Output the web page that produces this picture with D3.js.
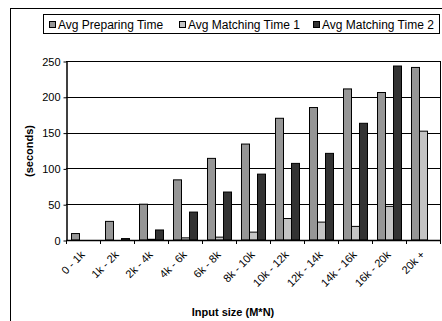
<!DOCTYPE html>
<html>
<head>
<meta charset="utf-8">
<script src="https://cdn.jsdelivr.net/npm/d3@7"></script>
<style>
body { margin: 0; background: #fff; }
text { font-family: "Liberation Sans", Arial, sans-serif; }
</style>
</head>
<body>
<svg id="chart"></svg>
<script>
// categories on the x axis
var categories = ["0 - 1k", "1k - 2k", "2k - 4k", "4k - 6k", "6k - 8k", "8k - 10k",
                  "10k - 12k", "12k - 14k", "14k - 16k", "16k - 20k", "20k +"];
var seriesNames = ["Avg Preparing Time", "Avg Matching Time 1", "Avg Matching Time 2"];
// values (seconds)
var prepTime = [9, 26, 50, 84, 114, 134, 170, 185, 211, 206, 241];
var matchTime1 = [0, 0, 1, 3, 4, 11, 30, 25, 19, 47, 152];
var matchTime2 = [0, 2, 14, 39, 67, 92, 107, 121, 163, 243, 0];
var yTicks = [0, 50, 100, 150, 200, 250];
var colors = ["#969696", "#c4c4c4", "#333333"];

var screen = {width: 442, height: 321};
var plot = {left: 66, right: 440, top: 61, bottom: 240};

var svg = d3.select("#chart")
    .attr("width", screen.width)
    .attr("height", screen.height);

// outer chart frame
svg.append("rect")
    .attr("x", 10.5).attr("y", 8.5)
    .attr("width", 440).attr("height", 330)
    .attr("fill", "none").attr("stroke", "#000");

var xScale = d3.scaleBand()
    .domain(categories)
    .range([plot.left, plot.right]);

var xInner = d3.scaleBand()
    .domain(seriesNames)
    .range([5, xScale.bandwidth() - 5]);

var yScale = d3.scaleLinear()
    .domain([0, 250])
    .range([plot.bottom, plot.top]);

// gridlines
svg.append("g")
    .selectAll("line")
    .data(yTicks)
    .enter()
    .append("line")
    .attr("x1", plot.left).attr("x2", plot.right)
    .attr("y1", function(d) { return Math.round(yScale(d)) + 0.5; })
    .attr("y2", function(d) { return Math.round(yScale(d)) + 0.5; })
    .attr("stroke", "#000");

// plot area right border
svg.append("line")
    .attr("x1", plot.right + 0.5).attr("x2", plot.right + 0.5)
    .attr("y1", plot.top).attr("y2", plot.bottom)
    .attr("stroke", "#000");

// bars
var allSeries = [prepTime, matchTime1, matchTime2];
var groups = svg.append("g")
    .selectAll("g")
    .data(categories)
    .enter()
    .append("g")
    .attr("transform", function(c) { return "translate(" + xScale(c) + ",0)"; });

groups.selectAll("rect")
    .data(function(c, i) {
        return seriesNames.map(function(s, j) { return {series: s, idx: j, value: allSeries[j][i]}; });
    })
    .enter()
    .append("rect")
    .filter(function(d) { return d.value > 0; })
    .attr("x", function(d) { return xInner(d.series) + 0.5; })
    .attr("y", function(d) { return yScale(d.value); })
    .attr("width", xInner.bandwidth())
    .attr("height", function(d) { return yScale(0) - yScale(d.value); })
    .attr("fill", function(d) { return colors[d.idx]; })
    .attr("stroke", "#000")
    .attr("stroke-width", 1);

// y axis
var yAxis = d3.axisLeft(yScale)
    .tickValues(yTicks)
    .tickSize(3)
    .tickSizeOuter(0);
var yg = svg.append("g")
    .attr("transform", "translate(" + (plot.left + 0.5) + ",0.5)")
    .call(yAxis);
yg.select(".domain").attr("stroke", "#000").attr("stroke-width", 1.5);
yg.selectAll("text")
    .attr("font-size", "11px")
    .attr("font-family", "Liberation Sans, Arial, sans-serif")
    .attr("fill", "#000")
    .attr("x", -6);

// x axis with ticks at band edges
var xg = svg.append("g");
xg.append("line")
    .attr("x1", plot.left).attr("x2", plot.right + 1)
    .attr("y1", plot.bottom + 0.5).attr("y2", plot.bottom + 0.5)
    .attr("stroke", "#000").attr("stroke-width", 1.5);
xg.selectAll(".xtick")
    .data(categories.concat(["end"]))
    .enter()
    .append("line")
    .attr("x1", function(c, i) { return Math.round(plot.left + i * xScale.step()) + 0.5; })
    .attr("x2", function(c, i) { return Math.round(plot.left + i * xScale.step()) + 0.5; })
    .attr("y1", plot.bottom).attr("y2", plot.bottom + 4)
    .attr("stroke", "#000");

xg.selectAll(".xlabel")
    .data(categories)
    .enter()
    .append("text")
    .attr("transform", function(c) {
        return "translate(" + (xScale(c) + xScale.bandwidth() / 2 - 3) + "," + (plot.bottom + 10) + ") rotate(-45)";
    })
    .attr("text-anchor", "end")
    .attr("dy", "0.7em")
    .attr("font-size", "11px")
    .text(function(c) { return c; });

// axis titles
svg.append("text")
    .attr("x", 233).attr("y", 316)
    .attr("text-anchor", "middle")
    .attr("font-size", "11px")
    .attr("font-weight", "bold")
    .text("Input size (M*N)");

svg.append("text")
    .attr("transform", "translate(33,151) rotate(-90)")
    .attr("text-anchor", "middle")
    .attr("font-size", "11px")
    .attr("font-weight", "bold")
    .text("(seconds)");

// legend
var legend = svg.append("g");
legend.append("rect")
    .attr("x", 43.5).attr("y", 14.5)
    .attr("width", 396).attr("height", 19)
    .attr("fill", "#fff").attr("stroke", "#000");

var legendX = [49, 179, 313];
var items = legend.selectAll(".item")
    .data(seriesNames)
    .enter()
    .append("g")
    .attr("transform", function(s, i) { return "translate(" + legendX[i] + ",21)"; });
items.append("rect")
    .attr("x", 0.5).attr("y", 0.5)
    .attr("width", 6).attr("height", 6)
    .attr("fill", function(s, i) { return colors[i]; })
    .attr("stroke", "#000");
items.append("text")
    .attr("x", 9).attr("y", 8)
    .attr("font-size", "12px")
    .text(function(s) { return s; });
</script>
</body>
</html>
